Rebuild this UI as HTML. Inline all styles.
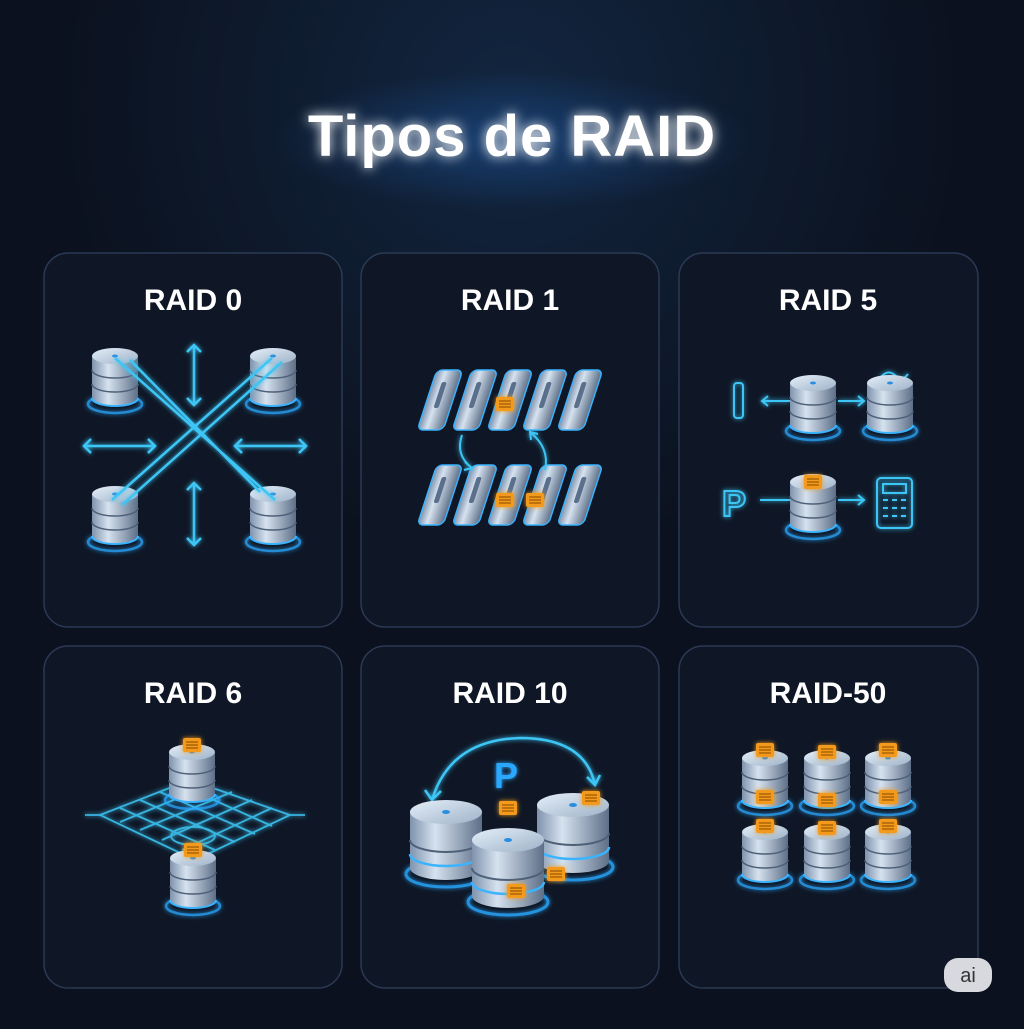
<!DOCTYPE html>
<html><head><meta charset="utf-8"><style>
html,body{margin:0;padding:0;background:#0b111e;}
body{width:1024px;height:1024px;overflow:hidden;font-family:"Liberation Sans",sans-serif;}
</style></head><body>
<svg width="1024" height="1024" viewBox="0 0 1024 1024" xmlns="http://www.w3.org/2000/svg">
<defs>
<radialGradient id="bg" cx="0.5" cy="0.1" r="0.45">
<stop offset="0" stop-color="#122640"/><stop offset="1" stop-color="#0b111e"/></radialGradient>
<radialGradient id="glow" cx="0.5" cy="0.5" r="0.5">
<stop offset="0" stop-color="#1e5aa8" stop-opacity="0.5"/><stop offset="1" stop-color="#1e5aa8" stop-opacity="0"/></radialGradient>
<linearGradient id="body" x1="0" x2="1"><stop offset="0" stop-color="#7f93ad"/><stop offset="0.35" stop-color="#d6e2ef"/><stop offset="1" stop-color="#5d6f88"/></linearGradient>
<linearGradient id="top" x1="0" x2="1" y1="0" y2="1"><stop offset="0" stop-color="#e4eef8"/><stop offset="1" stop-color="#9fb3c9"/></linearGradient>
<filter id="gl" x="-50%" y="-50%" width="200%" height="200%"><feGaussianBlur stdDeviation="2.5" result="b"/><feMerge><feMergeNode in="b"/><feMergeNode in="SourceGraphic"/></feMerge></filter>
<filter id="tg" x="-20%" y="-50%" width="140%" height="200%"><feGaussianBlur stdDeviation="6" result="b"/><feMerge><feMergeNode in="b"/><feMergeNode in="SourceGraphic"/></feMerge></filter>
<g id="cyl">
<ellipse cx="0" cy="48" rx="27" ry="9" fill="none" stroke="#2aa8ff" stroke-width="2.5" opacity="0.8" filter="url(#gl)"/>
<path d="M-23,0 V42 A23,8 0 0 0 23,42 V0 Z" fill="url(#body)"/>
<path d="M-23,14 A23,8 0 0 0 23,14 M-23,28 A23,8 0 0 0 23,28" fill="none" stroke="#4e6078" stroke-width="1.5"/>
<path d="M-23,42 A23,8 0 0 0 23,42" fill="none" stroke="#3ab4ff" stroke-width="2"/>
<ellipse cx="0" cy="0" rx="23" ry="8" fill="url(#top)"/>
<ellipse cx="0" cy="0" rx="3" ry="1.5" fill="#2a8ee0"/>
</g>
<g id="big">
<ellipse cx="0" cy="62" rx="40" ry="13" fill="none" stroke="#2aa8ff" stroke-width="3" opacity="0.85" filter="url(#gl)"/>
<path d="M-36,0 V56 A36,12 0 0 0 36,56 V0 Z" fill="url(#body)"/>
<path d="M-36,28 A36,12 0 0 0 36,28" fill="none" stroke="#4e6078" stroke-width="2"/>
<path d="M-36,42 A36,12 0 0 0 36,42" fill="none" stroke="#3ab4ff" stroke-width="2.5"/>
<ellipse cx="0" cy="0" rx="36" ry="12" fill="url(#top)"/>
<ellipse cx="0" cy="0" rx="4" ry="2" fill="#2a8ee0"/>
</g>
<g id="chip">
<rect x="-9" y="-7" width="18" height="14" rx="2" fill="#f39a1e" filter="url(#gl)"/>
<path d="M-6,-3 H6 M-6,0 H6 M-6,3 H6" stroke="#8a4a00" stroke-width="1"/>
</g>
<g id="slab">
<rect x="-13" y="-30" width="26" height="60" rx="6" fill="url(#body)" stroke="#3ab4ff" stroke-width="1.5" transform="skewX(-18)"/>
<rect x="-4" y="-18" width="5" height="26" rx="2" fill="#5a6f8c" transform="skewX(-18)"/>
</g>
</defs>
<rect width="1024" height="1024" fill="url(#bg)"/>
<ellipse cx="512" cy="140" rx="240" ry="70" fill="url(#glow)"/>
<text x="512" y="156" text-anchor="middle" font-size="58" font-weight="bold" fill="#ffffff" letter-spacing="1" filter="url(#tg)">Tipos de RAID</text>

<g fill="#0f1726" stroke="#2b3954" stroke-width="1.5">
<rect x="44" y="253" width="298" height="374" rx="24"/>
<rect x="361" y="253" width="298" height="374" rx="24"/>
<rect x="679" y="253" width="299" height="374" rx="24"/>
<rect x="44" y="646" width="298" height="342" rx="24"/>
<rect x="361" y="646" width="298" height="342" rx="24"/>
<rect x="679" y="646" width="299" height="342" rx="24"/>
</g>
<g font-size="30" font-weight="bold" fill="#fff" text-anchor="middle">
<text x="193" y="310">RAID 0</text><text x="510" y="310">RAID 1</text><text x="828" y="310">RAID 5</text>
<text x="193" y="703">RAID 6</text><text x="510" y="703">RAID 10</text><text x="828" y="703">RAID-50</text>
</g>

<!-- RAID 0 -->
<use href="#cyl" x="115" y="356"/><use href="#cyl" x="273" y="356"/>
<use href="#cyl" x="115" y="494"/><use href="#cyl" x="273" y="494"/>
<g stroke="#3cc6f5" stroke-width="2.5" fill="none" filter="url(#gl)">
<path d="M115,358 L275,500 M130,360 L260,492"/>
<path d="M272,358 L112,500 M282,362 L122,505"/>
<path d="M194,345 V405 M187,352 L194,345 L201,352 M187,398 L194,405 L201,398"/>
<path d="M194,483 V545 M187,490 L194,483 L201,490 M187,538 L194,545 L201,538"/>
<path d="M84,446 H155 M91,439 L84,446 L91,453 M148,439 L155,446 L148,453"/>
<path d="M235,446 H306 M242,439 L235,446 L242,453 M299,439 L306,446 L299,453"/>
</g>

<!-- RAID 1 -->
<g><use href="#slab" x="440" y="400"/><use href="#slab" x="475" y="400"/><use href="#slab" x="510" y="400"/><use href="#slab" x="545" y="400"/><use href="#slab" x="580" y="400"/></g>
<use href="#chip" x="505" y="404"/>
<g><use href="#slab" x="440" y="495"/><use href="#slab" x="475" y="495"/><use href="#slab" x="510" y="495"/><use href="#slab" x="545" y="495"/><use href="#slab" x="580" y="495"/></g>
<use href="#chip" x="505" y="500"/><use href="#chip" x="535" y="500"/>
<g stroke="#3cc6f5" stroke-width="2" fill="none" filter="url(#gl)">
<path d="M462,435 Q455,455 472,468 M465,462 L472,468 L464,470"/>
<path d="M545,470 Q550,448 530,432 M531,440 L530,432 L538,434"/>
</g>

<!-- RAID 5 -->
<g stroke="#3cc6f5" stroke-width="2" fill="none" filter="url(#gl)">
<rect x="734" y="383" width="9" height="35" rx="3"/>
<path d="M790,401 H762 M768,396 L762,401 L768,406"/>
<path d="M838,401 H864 M858,396 L864,401 L858,406"/>
<path d="M760,500 H790"/>
<path d="M838,500 H864 M858,495 L864,500 L858,505"/>
<rect x="877" y="478" width="35" height="50" rx="4"/>
<rect x="883" y="484" width="23" height="9"/>
<path d="M883,500 h5 m4,0 h5 m4,0 h5 M883,508 h5 m4,0 h5 m4,0 h5 M883,516 h5 m4,0 h5 m4,0 h5"/>
<path d="M880,378 q8,-10 16,-2 q6,6 12,-2"/>
</g>
<text x="734" y="516" font-size="36" font-weight="bold" fill="none" stroke="#3cc6f5" stroke-width="2" text-anchor="middle" filter="url(#gl)">P</text>
<use href="#cyl" x="813" y="383"/><use href="#cyl" x="890" y="383"/>
<use href="#cyl" x="813" y="482"/><use href="#chip" x="813" y="482"/>

<!-- RAID 6 -->
<g stroke="#3cc6f5" stroke-width="1.8" fill="none" filter="url(#gl)" opacity="0.9">
<path d="M100,815 L190,780 L290,815 L195,860 Z"/>
<path d="M120,808 L215,850 M140,800 L235,842 M160,792 L255,834 M180,785 L272,826"/>
<path d="M120,822 L210,785 M140,830 L232,792 M162,840 L252,800 M182,850 L272,808"/>
<path d="M100,815 H85 M290,815 H305"/>
<ellipse cx="193" cy="836" rx="22" ry="9"/>
</g>
<use href="#cyl" x="192" y="752"/><use href="#chip" x="192" y="745"/>
<use href="#cyl" x="193" y="858"/><use href="#chip" x="193" y="850"/>

<!-- RAID 10 -->
<g stroke="#3cc6f5" stroke-width="2.5" fill="none" filter="url(#gl)">
<path d="M432,800 Q450,740 520,738 Q585,738 595,785 M425,790 L432,800 L441,791 M587,777 L595,785 L600,775"/>
</g>
<text x="506" y="788" font-size="36" font-weight="bold" fill="#2aa8ff" text-anchor="middle" filter="url(#gl)">P</text>
<use href="#big" x="446" y="812"/><use href="#big" x="573" y="805"/><use href="#big" x="508" y="840"/>
<use href="#chip" x="508" y="808"/><use href="#chip" x="591" y="798"/><use href="#chip" x="556" y="874"/><use href="#chip" x="516" y="891"/>

<!-- RAID 50 -->
<use href="#cyl" x="765" y="758"/><use href="#cyl" x="827" y="758"/><use href="#cyl" x="888" y="758"/>
<use href="#cyl" x="765" y="832"/><use href="#cyl" x="827" y="832"/><use href="#cyl" x="888" y="832"/>
<use href="#chip" x="765" y="750"/><use href="#chip" x="827" y="752"/><use href="#chip" x="888" y="750"/>
<use href="#chip" x="765" y="797"/><use href="#chip" x="827" y="800"/><use href="#chip" x="888" y="797"/>
<use href="#chip" x="765" y="826"/><use href="#chip" x="827" y="828"/><use href="#chip" x="888" y="826"/>

<rect x="944" y="958" width="48" height="34" rx="14" fill="#d7d9de"/>
<text x="968" y="982" font-size="20" fill="#333" text-anchor="middle">ai</text>
</svg>
</body></html>
